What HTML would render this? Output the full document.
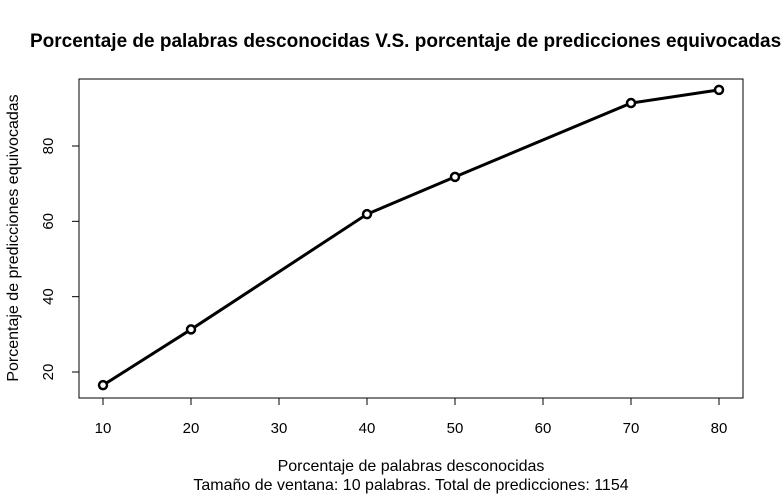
<!DOCTYPE html>
<html><head><meta charset="utf-8"><style>
html,body{margin:0;padding:0;background:#fff;}
svg{display:block;font-family:"Liberation Sans",sans-serif;}
</style></head><body>
<svg id="chart" width="784" height="496" viewBox="0 0 784 496">
<rect x="0" y="0" width="784" height="496" fill="#fff"/>
<text x="30" y="47" font-size="19" font-weight="bold" fill="#000">Porcentaje de palabras desconocidas V.S. porcentaje de predicciones equivocadas</text>
<rect x="79" y="79" width="664" height="319" fill="none" stroke="#000" stroke-width="1"/>
<g id="axes"></g>
<g id="series"></g>
<text x="411" y="471" font-size="16" text-anchor="middle" fill="#000">Porcentaje de palabras desconocidas</text>
<text x="411" y="490" font-size="16" text-anchor="middle" fill="#000">Tamaño de ventana: 10 palabras. Total de predicciones: 1154</text>
<text transform="translate(18,238) rotate(-90)" font-size="16" text-anchor="middle" fill="#000">Porcentaje de predicciones equivocadas</text>
</svg>
<script>
const xValues = [10, 20, 40, 50, 70, 80];
const yValues = [16.5, 31.3, 61.9, 71.8, 91.4, 94.9];
const xTicks = [10, 20, 30, 40, 50, 60, 70, 80];
const yTicks = [20, 40, 60, 80];

const NS = "http://www.w3.org/2000/svg";
function xs(v){ return 103 + (v - 10) * (616 / 70); }
function ys(v){ return 372 - (v - 20) * (226 / 60); }
function mk(tag, attrs, parent){
  const e = document.createElementNS(NS, tag);
  for (const k in attrs) e.setAttribute(k, attrs[k]);
  parent.appendChild(e);
  return e;
}
const axes = document.getElementById('axes');
const series = document.getElementById('series');

mk('line', {x1: xs(xTicks[0]), x2: xs(xTicks[xTicks.length-1]), y1: 398, y2: 398, stroke: '#000'}, axes);
xTicks.forEach(t => {
  const l = mk('line', {x1: xs(t), x2: xs(t), y1: 398, y2: 405, stroke: '#000'}, axes);
  
  
  const tx = mk('text', {x: xs(t), y: 433, 'font-size': 15, 'text-anchor': 'middle'}, axes);
  tx.textContent = t;
  
  
});
mk('line', {x1: 79, x2: 79, y1: ys(yTicks[0]), y2: ys(yTicks[yTicks.length-1]), stroke: '#000'}, axes);
yTicks.forEach(t => {
  const l = mk('line', {x1: 72, x2: 79, y1: ys(t), y2: ys(t), stroke: '#000'}, axes);
  
  
  const tx = mk('text', {transform: 'translate(53,' + ys(t) + ') rotate(-90)', 'font-size': 15, 'text-anchor': 'middle'}, axes);
  tx.textContent = t;
  
  
});

const pts = xValues.map((x, i) => xs(x) + ',' + ys(yValues[i])).join(' ');
const line = mk('polyline', {points: pts, fill: 'none', stroke: '#000', 'stroke-width': 3}, series);


xValues.forEach((x, i) => {
  const c = mk('circle', {cx: xs(x), cy: ys(yValues[i]), r: 4, fill: '#fff', stroke: '#000', 'stroke-width': 2.5}, series);
  
  
});
</script>
</body></html>
